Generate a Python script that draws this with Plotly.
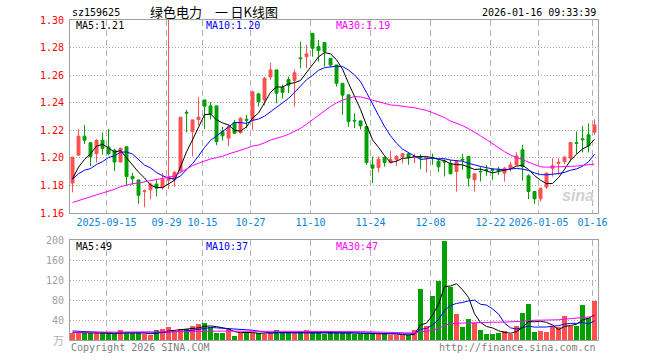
import plotly.graph_objects as go

# ---------------- data ----------------
opens = [1.1817, 1.2020, 1.2157, 1.2110, 1.2030, 1.2127, 1.2078, 1.2056, 1.1970, 1.2080,
         1.1866, 1.1840, 1.1755, 1.1768, 1.1810, 1.1785, 1.1838, 1.1840, 1.1905, 1.2330,
         1.2190, 1.2278, 1.2420, 1.2377, 1.2377, 1.2190, 1.2143, 1.2256, 1.2183, 1.2280,
         1.2278, 1.2464, 1.2420, 1.2587, 1.2638, 1.2512, 1.2568, 1.2562, 1.2725, 1.2734,
         1.2903, 1.2807, 1.2836, 1.2722, 1.2674, 1.2541, 1.2457, 1.2272, 1.2268, 1.2227,
         1.1949, 1.1930, 1.2002, 1.1965, 1.1986, 1.2010, 1.2029, 1.2004, 1.2010, 1.1995,
         1.2000, 1.1975, 1.1975, 1.1961, 1.1901, 1.1990, 1.2010, 1.1841, 1.1903, 1.1915,
         1.1915, 1.1918, 1.1889, 1.1925, 1.1949, 1.2058, 1.1870, 1.1756, 1.1703, 1.1788,
         1.1925, 1.1960, 1.1973, 1.1998, 1.2110, 1.2138, 1.2167, 1.2186]
highs = [1.2005, 1.2208, 1.2238, 1.2110, 1.2135, 1.2185, 1.2210, 1.2066, 1.2073, 1.2083,
         1.1890, 1.1840, 1.1770, 1.1821, 1.1838, 1.1890, 1.3300, 1.1905, 1.2295, 1.2348,
         1.2278, 1.2440, 1.2420, 1.2403, 1.2377, 1.2225, 1.2237, 1.2275, 1.2295, 1.2312,
         1.2487, 1.2472, 1.2587, 1.2690, 1.2638, 1.2530, 1.2590, 1.2643, 1.2843, 1.2819,
         1.2903, 1.2855, 1.2836, 1.2722, 1.2674, 1.2541, 1.2457, 1.2324, 1.2270, 1.2227,
         1.2010, 1.2010, 1.2010, 1.2050, 1.2020, 1.2035, 1.2040, 1.2030, 1.2025, 1.2010,
         1.2030, 1.1985, 1.1990, 1.1985, 1.1985, 1.2029, 1.2012, 1.1890, 1.1937, 1.1949,
         1.1925, 1.1935, 1.1935, 1.1970, 1.2040, 1.2094, 1.1880, 1.1760, 1.1780, 1.1895,
         1.1998, 1.1998, 1.2014, 1.2115, 1.2191, 1.2232, 1.2250, 1.2280]
lows = [1.1749, 1.2015, 1.2099, 1.1940, 1.1965, 1.2024, 1.2018, 1.1905, 1.1968, 1.1800,
        1.1805, 1.1668, 1.1642, 1.1700, 1.1720, 1.1770, 1.1775, 1.1790, 1.1898, 1.2185,
        1.2010, 1.2237, 1.2210, 1.2278, 1.2092, 1.2125, 1.2085, 1.2176, 1.2175, 1.2215,
        1.2203, 1.2372, 1.2380, 1.2565, 1.2396, 1.2430, 1.2470, 1.2372, 1.2650, 1.2650,
        1.2734, 1.2698, 1.2662, 1.2660, 1.2517, 1.2312, 1.2225, 1.2215, 1.2205, 1.1949,
        1.1817, 1.1894, 1.1937, 1.1960, 1.1940, 1.1960, 1.1950, 1.1960, 1.1920, 1.1894,
        1.1950, 1.1898, 1.1865, 1.1884, 1.1756, 1.1913, 1.1792, 1.1756, 1.1828, 1.1870,
        1.1841, 1.1877, 1.1828, 1.1900, 1.1945, 1.1835, 1.1701, 1.1667, 1.1683, 1.1775,
        1.1865, 1.1877, 1.1953, 1.1975, 1.2029, 1.2039, 1.2040, 1.2165]
closes = [1.2005, 1.2157, 1.2128, 1.2010, 1.2127, 1.2068, 1.2030, 1.1970, 1.2070, 1.1865,
          1.1848, 1.1728, 1.1760, 1.1810, 1.1780, 1.1843, 1.1862, 1.1895, 1.2295, 1.2325,
          1.2275, 1.2296, 1.2375, 1.2318, 1.2117, 1.2160, 1.2225, 1.2178, 1.2288, 1.2272,
          1.2480, 1.2408, 1.2577, 1.2638, 1.2469, 1.2475, 1.2527, 1.2617, 1.2720, 1.2754,
          1.2795, 1.2778, 1.2770, 1.2674, 1.2541, 1.2455, 1.2263, 1.2268, 1.2232, 1.1966,
          1.1925, 1.1990, 1.1966, 1.1988, 1.2010, 1.2029, 1.2005, 1.2010, 1.2000, 1.2000,
          1.1995, 1.1935, 1.1970, 1.1884, 1.1973, 1.1985, 1.1853, 1.1884, 1.1899, 1.1910,
          1.1908, 1.1905, 1.1925, 1.1949, 1.2014, 1.1937, 1.1756, 1.1703, 1.1780, 1.1889,
          1.1942, 1.1968, 1.2005, 1.2111, 1.2104, 1.2132, 1.2087, 1.2239]
# closes of the 29 sessions before the first visible candle (only used for moving averages)
prior_closes = [1.170, 1.168, 1.171, 1.167, 1.166, 1.169, 1.152, 1.149, 1.150,
                1.155, 1.158, 1.153, 1.157, 1.160, 1.154, 1.156, 1.159, 1.155, 1.157, 1.156,
                1.178, 1.186, 1.190, 1.183, 1.186, 1.1726, 1.185, 1.181, 1.1844]

volumes = [14.7, 14.7, 14.7, 13.3, 13.3, 13.3, 13.3, 12, 20, 13.3,
           13.3, 13.3, 12, 10, 20, 22.7, 26, 18.7, 21.3, 21.3,
           28, 32, 34, 25.3, 14.7, 14.7, 21.3, 8, 14.7, 16,
           14.7, 13.3, 12, 13.3, 20, 14.7, 13.3, 13.3, 13.3, 20.7,
           14.7, 14.7, 12.7, 16, 14.7, 14.7, 14.7, 11.3, 11.3, 14.7,
           14.7, 13.3, 13.3, 9.3, 9.3, 9.3, 9.3, 20, 102.7, 28,
           88, 118, 198.7, 106.7, 52, 26.7, 42, 34.7, 20, 12,
           12, 14, 18, 12, 28, 54, 72, 16, 18, 16,
           28, 25.3, 48, 28, 28, 70, 44.7, 78]
prior_volumes = [14, 13, 15, 14, 13, 15, 14, 13, 14, 15,
                 14, 13, 15, 14, 14, 13, 15, 14, 14, 15,
                 22, 20, 24, 18, 21, 15, 16, 14, 16]

tick_pos = [6, 16, 22, 30, 40, 50, 60, 70, 78, 87]
tick_labels = ["2025-09-15", "09-29", "10-15", "10-27", "11-10", "11-24",
               "12-08", "12-22", "2026-01-05", "01-16"]
price_ticks = [1.16, 1.18, 1.20, 1.22, 1.24, 1.26, 1.28, 1.30]
vol_ticks = [40, 80, 120, 160, 200]

code = "sz159625"
title = "绿色电力\u2003一\u2009日K线图"
stamp = "2026-01-16 09:33:39"
price_ma_text = ["MA5:1.21", "MA10:1.20", "MA30:1.19"]
vol_ma_text = ["MA5:49", "MA10:37", "MA30:47"]

# ---------------- helpers ----------------
W, H = 660, 360
RED = "#ff5050"
GREEN = "#00a000"
MONO = "DejaVu Sans Mono"


def px(x):
    return x / W


def py(y):
    return 1 - y / H


def moving_avg(prior, vals, n):
    full = list(prior) + list(vals)
    off = len(prior)
    out = []
    for i in range(len(vals)):
        seg = full[off + i - n + 1: off + i + 1]
        out.append(sum(seg) / len(seg))
    return out


n = len(closes)
xs = list(range(n))
grid_x = [p - 0.33 for p in tick_pos]

fig = go.Figure()
fig.add_trace(go.Candlestick(
    x=xs, open=opens, high=highs, low=lows, close=closes,
    increasing=dict(line=dict(color=RED, width=1), fillcolor=RED),
    decreasing=dict(line=dict(color=GREEN, width=1), fillcolor=GREEN),
    whiskerwidth=0, xaxis="x", yaxis="y", showlegend=False, hoverinfo="skip"))

for per, col in [(5, "#000000"), (10, "#0000ff"), (30, "#ff00ff")]:
    fig.add_trace(go.Scatter(x=xs, y=moving_avg(prior_closes, closes, per), mode="lines",
                             line=dict(color=col, width=1), xaxis="x", yaxis="y",
                             showlegend=False, hoverinfo="skip"))

vol_colors = [RED if c >= o else GREEN for o, c in zip(opens, closes)]
fig.add_trace(go.Bar(x=xs, y=volumes, marker=dict(color=vol_colors, line=dict(width=0)),
                     width=0.78, xaxis="x2", yaxis="y2", showlegend=False, hoverinfo="skip"))
for per, col in [(5, "#000000"), (10, "#0000ff"), (30, "#ff00ff")]:
    fig.add_trace(go.Scatter(x=xs, y=moving_avg(prior_volumes, volumes, per), mode="lines",
                             line=dict(color=col, width=1), xaxis="x2", yaxis="y2",
                             showlegend=False, hoverinfo="skip"))

xr = [-0.42, 87.53]
xdom = [px(70), px(597.7)]
common_x = dict(range=xr, domain=xdom, showline=True, mirror=True, linecolor="#a0a0a0",
                linewidth=1, showgrid=True, gridcolor="#b0b0b0", griddash="6px,4px",
                gridwidth=1, tickvals=grid_x, zeroline=False, fixedrange=True,
                rangeslider=dict(visible=False), tickangle=0, automargin=False)

fig.update_layout(
    width=W, height=H, margin=dict(l=0, r=0, t=0, b=0),
    paper_bgcolor="white", plot_bgcolor="white", bargap=0,
    xaxis=dict(common_x, anchor="y", ticktext=tick_labels, showticklabels=True,
               ticks="", ticklen=0,
               tickfont=dict(family=MONO, size=10, color="#0a84d8")),
    xaxis2=dict(common_x, anchor="y2", ticktext=tick_labels, showticklabels=False),
    yaxis=dict(domain=[py(213), py(20)], range=[1.16, 1.30], tickvals=price_ticks,
               tickformat=".2f", showline=True, mirror=True, linecolor="#a0a0a0",
               showgrid=True, gridcolor="#a8a8a8", griddash="1px,2px", zeroline=False,
               ticks="outside", ticklen=3, tickcolor="rgba(0,0,0,0)",
               tickfont=dict(family=MONO, size=10, color="#ff0000"), automargin=False,
               anchor="x"),
    yaxis2=dict(domain=[py(340), py(240)], range=[0, 200], tickvals=vol_ticks,
                showline=True, mirror=True, linecolor="#a0a0a0",
                showgrid=True, gridcolor="#a8a8a8", griddash="1px,2px", zeroline=False,
                ticks="outside", ticklen=3, tickcolor="rgba(0,0,0,0)",
                tickfont=dict(family=MONO, size=10, color="#a0a0a0"), automargin=False,
                anchor="x2"),
)

ann = []


def text(x, y, s, color="#000000", size=10, family=MONO, xanchor="left", **kw):
    ann.append(dict(x=px(x), y=py(y), xref="paper", yref="paper", text=s, showarrow=False,
                    xanchor=xanchor, yanchor="middle", font=dict(family=family, size=size, color=color), **kw))


text(70, 13, code)
text(148, 11, title, size=13, family="Noto Sans CJK SC", xanchor="left")
text(597.5, 13, stamp, xanchor="right")
for s, x, c in zip(price_ma_text, [74, 204, 334], ["#000000", "#0000ff", "#ff00ff"]):
    text(x, 26, s, color=c)
for s, x, c in zip(vol_ma_text, [74, 204, 334], ["#000000", "#0000ff", "#ff00ff"]):
    text(x, 246, s, color=c)
text(66, 340, "万", color="#b0b0b0", size=11, family="Noto Sans CJK SC", xanchor="right")
text(69, 347, "Copyright 2026 SINA.COM", color="#808080")
text(597.5, 347, "http://finance.sina.com.cn", color="#808080", xanchor="right")
text(596, 195, "<b><i>sina</i></b>", color="#d0d0d0", size=16, family="Arial, Liberation Sans",
     xanchor="right")
fig.update_layout(annotations=ann)

fig.write_html("out.html")
